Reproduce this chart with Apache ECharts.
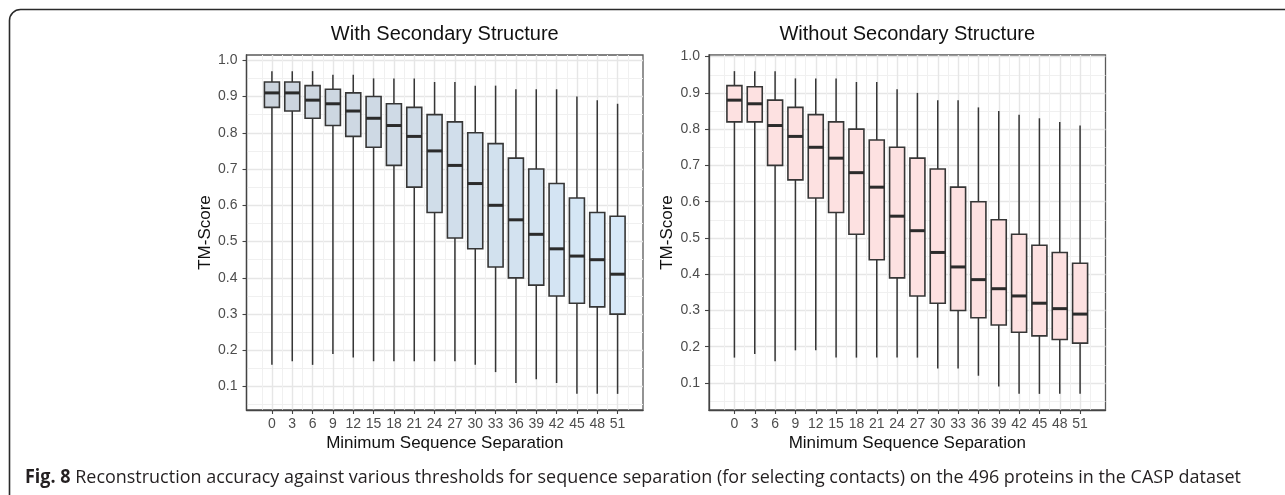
<!DOCTYPE html>
<html><head><meta charset="utf-8">
<script src="https://cdn.jsdelivr.net/npm/echarts@6/dist/echarts.min.js"></script>
<style>html,body{margin:0;padding:0;background:#fff}#c{width:1285px;height:495px}</style>
</head><body><div id="c"></div>
<script>
// ---- data ----
const separations = [0, 3, 6, 9, 12, 15, 18, 21, 24, 27, 30, 33, 36, 39, 42, 45, 48, 51];
const xMinorTicks = [-1.5, 1.5, 4.5, 7.5, 10.5, 13.5, 16.5, 19.5, 22.5, 25.5, 28.5, 31.5, 34.5, 37.5, 40.5, 43.5, 46.5, 49.5, 52.5];
const yTicks = [0.1, 0.2, 0.3, 0.4, 0.5, 0.6, 0.7, 0.8, 0.9, 1.0];
const yMinorTicks = [0.05, 0.15, 0.25, 0.35, 0.45, 0.55, 0.65, 0.75, 0.85, 0.95];

// With secondary structure
const withMax = [0.97, 0.97, 0.97, 0.96, 0.96, 0.95, 0.95, 0.95, 0.94, 0.94, 0.93, 0.93, 0.92, 0.92, 0.92, 0.90, 0.89, 0.88];
const withQ3  = [0.94, 0.94, 0.93, 0.92, 0.91, 0.90, 0.88, 0.87, 0.85, 0.83, 0.80, 0.77, 0.73, 0.70, 0.66, 0.62, 0.58, 0.57];
const withMed = [0.91, 0.91, 0.89, 0.88, 0.86, 0.84, 0.82, 0.79, 0.75, 0.71, 0.66, 0.60, 0.56, 0.52, 0.48, 0.46, 0.45, 0.41];
const withQ1  = [0.87, 0.86, 0.84, 0.82, 0.79, 0.76, 0.71, 0.65, 0.58, 0.51, 0.48, 0.43, 0.40, 0.38, 0.35, 0.33, 0.32, 0.30];
const withMin = [0.16, 0.17, 0.16, 0.19, 0.18, 0.17, 0.17, 0.17, 0.17, 0.17, 0.16, 0.14, 0.11, 0.12, 0.11, 0.08, 0.08, 0.08];

// Without secondary structure
const woMax = [0.96, 0.96, 0.96, 0.94, 0.94, 0.94, 0.93, 0.93, 0.91, 0.90, 0.88, 0.88, 0.86, 0.85, 0.84, 0.83, 0.82, 0.81];
const woQ3  = [0.92, 0.917, 0.88, 0.86, 0.84, 0.82, 0.80, 0.77, 0.75, 0.72, 0.69, 0.64, 0.60, 0.55, 0.51, 0.48, 0.46, 0.43];
const woMed = [0.88, 0.87, 0.81, 0.78, 0.75, 0.72, 0.68, 0.64, 0.56, 0.52, 0.46, 0.42, 0.385, 0.36, 0.34, 0.32, 0.305, 0.29];
const woQ1  = [0.82, 0.82, 0.70, 0.66, 0.61, 0.57, 0.51, 0.44, 0.39, 0.34, 0.32, 0.30, 0.28, 0.26, 0.24, 0.23, 0.22, 0.21];
const woMin = [0.17, 0.18, 0.16, 0.19, 0.19, 0.17, 0.17, 0.17, 0.17, 0.17, 0.14, 0.14, 0.12, 0.09, 0.07, 0.07, 0.07, 0.07];

const titles = ['With Secondary Structure', 'Without Secondary Structure'];
const xTitle = 'Minimum Sequence Separation';
const yTitle = 'TM-Score';
const captionBold = 'Fig. 8';
const captionText = ' Reconstruction accuracy against various thresholds for sequence separation (for selecting contacts) on the 496 proteins in the CASP dataset';

// ---- layout / style ----
const FONT = '"Liberation Sans", Arial, sans-serif';
const panels = [
  {left: 246.5, top: 55, width: 396.5, height: 355, yMin: 0.0355, yMax: 1.0145},
  {left: 709, top: 55, width: 396.5, height: 355, yMin: 0.0255, yMax: 1.0045}
];
const X_MIN = -3.75, X_MAX = 54.75;

function lerpColor(a, b, t) {
  const pa = [1,3,5].map(i => parseInt(a.substr(i,2),16));
  const pb = [1,3,5].map(i => parseInt(b.substr(i,2),16));
  return 'rgb(' + pa.map((v,k) => Math.round(v + (pb[k]-v)*t)).join(',') + ')';
}
const leftFill = (i) => lerpColor('#cbd3dc', '#d6e8f8', i / (separations.length - 1));
const rightFill = () => '#fde1e1';

function boxData(mn, q1, md, q3, mx) {
  return separations.map((s, i) => [s, mn[i], q1[i], md[i], q3[i], mx[i]]);
}

function makeRender(fillFn) {
  return function (params, api) {
    const x = api.value(0);
    const pMin = api.coord([x, api.value(1)]);
    const pQ1 = api.coord([x, api.value(2)]);
    const pMed = api.coord([x, api.value(3)]);
    const pQ3 = api.coord([x, api.value(4)]);
    const pMax = api.coord([x, api.value(5)]);
    const cx = pMin[0];
    const hw = 7.5;
    const stroke = '#363636';
    return {
      type: 'group',
      children: [
        {type: 'line', shape: {x1: cx, y1: pMax[1], x2: cx, y2: pQ3[1]}, style: {stroke, lineWidth: 1.5}},
        {type: 'line', shape: {x1: cx, y1: pQ1[1], x2: cx, y2: pMin[1]}, style: {stroke, lineWidth: 1.5}},
        {type: 'rect', shape: {x: cx - hw, y: pQ3[1], width: 2 * hw, height: pQ1[1] - pQ3[1]},
         style: {fill: fillFn(params.dataIndex), stroke, lineWidth: 1.6}},
        {type: 'line', shape: {x1: cx - hw, y1: pMed[1], x2: cx + hw, y2: pMed[1]}, style: {stroke: '#2b2b2b', lineWidth: 3}}
      ]
    };
  };
}

const grids = [], xAxes = [], yAxes = [], series = [], graphics = [];
const datasets = [boxData(withMin, withQ1, withMed, withQ3, withMax), boxData(woMin, woQ1, woMed, woQ3, woMax)];
const fills = [leftFill, rightFill];

panels.forEach((p, g) => {
  grids.push({left: p.left, top: p.top, width: p.width, height: p.height, show: true,
              borderColor: '#5a5a5a', borderWidth: 1.3, backgroundColor: 'transparent', containLabel: false});
  // minor axes (first, so drawn beneath)
  xAxes.push({gridIndex: g, type: 'value', min: X_MIN, max: X_MAX, position: 'top',
    axisLine: {show: false}, axisTick: {show: false, customValues: xMinorTicks}, axisLabel: {show: false},
    splitLine: {show: true, lineStyle: {color: '#f0f0f0', width: 1}}});
  yAxes.push({gridIndex: g, type: 'value', min: p.yMin, max: p.yMax, position: 'right',
    axisLine: {show: false}, axisTick: {show: false, customValues: yMinorTicks}, axisLabel: {show: false},
    splitLine: {show: true, lineStyle: {color: '#f0f0f0', width: 1}}});
  // major axes
  xAxes.push({gridIndex: g, type: 'value', min: X_MIN, max: X_MAX, position: 'bottom',
    axisLine: {show: true, onZero: false, lineStyle: {color: '#444', width: 1.3}},
    axisTick: {show: true, length: 4, customValues: separations, lineStyle: {color: '#444', width: 1.1}},
    axisLabel: {customValues: separations, margin: 7, fontSize: 14, color: '#4d4d4d', fontFamily: FONT},
    splitLine: {show: true, lineStyle: {color: '#e6e6e6', width: 1.4}}});
  yAxes.push({gridIndex: g, type: 'value', min: p.yMin, max: p.yMax, position: 'left',
    axisLine: {show: true, onZero: false, lineStyle: {color: '#444', width: 1.3}},
    axisTick: {show: true, length: 4, customValues: yTicks, lineStyle: {color: '#444', width: 1.1}},
    axisLabel: {customValues: yTicks, margin: 9, fontSize: 14, color: '#4d4d4d', fontFamily: FONT,
                formatter: v => Number(v).toFixed(1)},
    splitLine: {show: true, lineStyle: {color: '#e6e6e6', width: 1.4}}});
  series.push({type: 'custom', xAxisIndex: 2 * g + 1, yAxisIndex: 2 * g + 1,
    data: datasets[g], encode: {x: 0, y: [1, 2, 3, 4, 5]}, renderItem: makeRender(fills[g]), z: 5, silent: true});

  const cx = p.left + p.width / 2;
  graphics.push({type: 'text', x: cx, y: 34, style: {text: titles[g], fontSize: 20, fontFamily: FONT,
                 fill: '#111', align: 'center', verticalAlign: 'middle'}});
  graphics.push({type: 'text', x: cx, y: 443, style: {text: xTitle, fontSize: 17, fontFamily: FONT,
                 fill: '#111', align: 'center', verticalAlign: 'middle'}});
  graphics.push({type: 'text', x: p.left - 41.5, y: p.top + p.height / 2, rotation: Math.PI / 2,
                 style: {text: yTitle, fontSize: 17, fontFamily: FONT, fill: '#111', align: 'center', verticalAlign: 'middle'}});
});

// caption width fit
const CAP_FONT = '"Open Sans", "Noto Sans", sans-serif';
const CAP_SIZE = 19;
const cv = document.createElement('canvas').getContext('2d');
cv.font = 'bold ' + CAP_SIZE + 'px ' + CAP_FONT;
const wb = cv.measureText(captionBold).width;
cv.font = CAP_SIZE + 'px ' + CAP_FONT;
const wr = cv.measureText(captionText).width;
const capScale = 1216 / (wb + wr);

graphics.push({type: 'text', x: 25, y: 478, scaleX: capScale,
  style: {text: '{b|' + captionBold + '}' + captionText, fontSize: CAP_SIZE, fontFamily: CAP_FONT, fill: '#231f20',
          align: 'left', verticalAlign: 'middle',
          rich: {b: {fontWeight: 'bold', fontSize: CAP_SIZE, fontFamily: CAP_FONT, fill: '#231f20'}}}});
// frame
graphics.push({type: 'rect', shape: {x: 9.5, y: 9.5, width: 1400, height: 600, r: [11, 0, 0, 0]},
  style: {fill: 'none', stroke: '#2a2a2a', lineWidth: 1.6}, z: 1});

const chart = echarts.init(document.getElementById('c'), null, {renderer: 'canvas'});
chart.setOption({
  animation: false,
  backgroundColor: '#ffffff',
  grid: grids, xAxis: xAxes, yAxis: yAxes, series: series, graphic: graphics
});
</script></body></html>
